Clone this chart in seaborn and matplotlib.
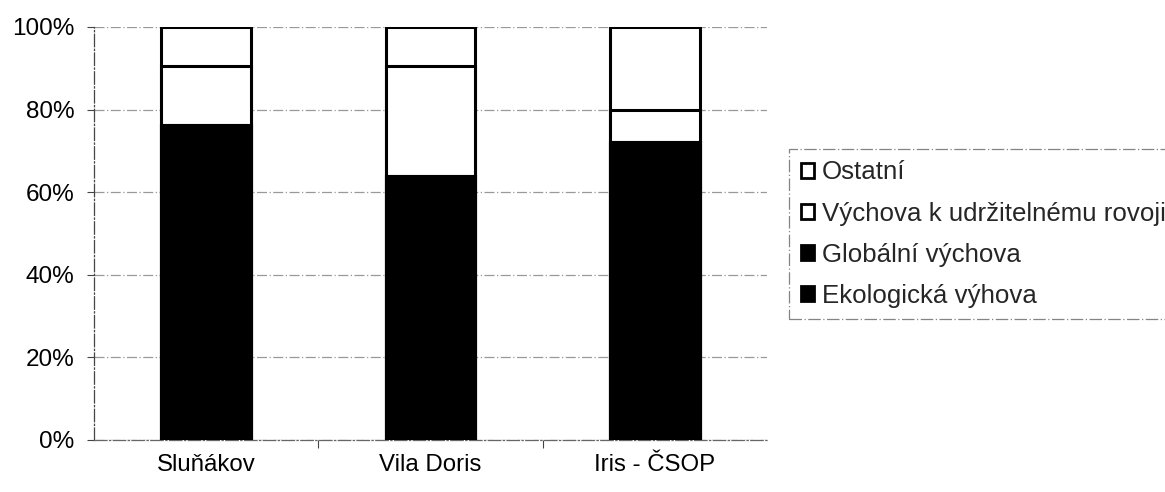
import matplotlib
matplotlib.use("Agg")
import matplotlib.pyplot as plt
import seaborn as sns
import pandas as pd
import numpy as np
from matplotlib.patches import Patch
from matplotlib.ticker import PercentFormatter, FixedLocator

categories = ["Sluňákov", "Vila Doris", "Iris - ČSOP"]
ekologicka = [76.3, 63.9, 72.2]
globalni = [0.0, 0.0, 0.0]
udrzitelny = [14.3, 26.7, 7.7]
ostatni = [9.4, 9.4, 20.1]

series_names = ["Ekologická výhova", "Globální výchova",
                "Výchova k udržitelnému rovoji", "Ostatní"]
series_vals = [ekologicka, globalni, udrzitelny, ostatni]
series_colors = ["black", "black", "white", "white"]

sns.set_theme(style="white")
plt.rcParams['font.family'] = ['Liberation Sans', 'DejaVu Sans']

fig = plt.figure(figsize=(11.65, 4.92), dpi=100)
ax = fig.add_axes([94/1165, 52/492, 673/1165, 413/492])

cum = np.cumsum(np.array(series_vals), axis=0) / 100.0
rows = []
for i, name in enumerate(series_names):
    for j, c in enumerate(categories):
        rows.append({"cat": c, "series": name, "top": cum[i, j]})
df = pd.DataFrame(rows)

for i in reversed(range(len(series_names))):
    sub = df[df["series"] == series_names[i]]
    sns.barplot(data=sub, x="cat", y="top", order=categories, color=series_colors[i],
                edgecolor="black", linewidth=2.2, width=0.4, ax=ax, saturation=1, zorder=3)

ax.set_ylim(0, 1)
ax.set_xlim(-0.5, 2.5)
ax.yaxis.set_major_locator(FixedLocator([0, 0.2, 0.4, 0.6, 0.8, 1.0]))
ax.yaxis.set_major_formatter(PercentFormatter(1.0, decimals=0))
ax.set_xlabel("")
ax.set_ylabel("")
ax.grid(axis="y", color="#999999", linestyle=(0, (8, 2, 1, 2)), linewidth=0.9, zorder=0)
ax.set_axisbelow(True)

for s in ["top", "right"]:
    ax.spines[s].set_visible(False)
ax.spines["left"].set_color("#444444")
ax.spines["left"].set_linewidth(0.9)
ax.spines["left"].set_linestyle((0, (10, 2, 1, 2)))
ax.spines["bottom"].set_color("#666666")
ax.spines["bottom"].set_linewidth(0.9)
ax.spines["bottom"].set_linestyle((0, (10, 2, 1, 2)))

ax.tick_params(axis="y", which="major", left=True, length=5, width=0.8, color="#444444",
               labelsize=17.5, pad=9, labelcolor="black")
ax.tick_params(axis="x", which="major", bottom=False, labelsize=17.3, pad=4, labelcolor="black")
ax.xaxis.set_minor_locator(FixedLocator([0.5, 1.5]))
ax.tick_params(axis="x", which="minor", bottom=True, length=6, width=0.8, color="#444444")

handles = [Patch(facecolor=series_colors[i], edgecolor="black", linewidth=2.0,
                 label=series_names[i]) for i in reversed(range(len(series_names)))]
leg = ax.legend(handles=handles, loc="upper left", bbox_to_anchor=(1.033, 0.705),
                frameon=True, fancybox=False, fontsize=18.6, handlelength=0.5,
                handleheight=0.5, handletextpad=0.3, labelspacing=0.66,
                borderpad=0.45, borderaxespad=0)
leg.get_frame().set_edgecolor("#666666")
leg.get_frame().set_linewidth(0.9)
leg.get_frame().set_linestyle((0, (10, 2, 1, 2)))

fig.savefig("out.png", dpi=100, facecolor="white")
